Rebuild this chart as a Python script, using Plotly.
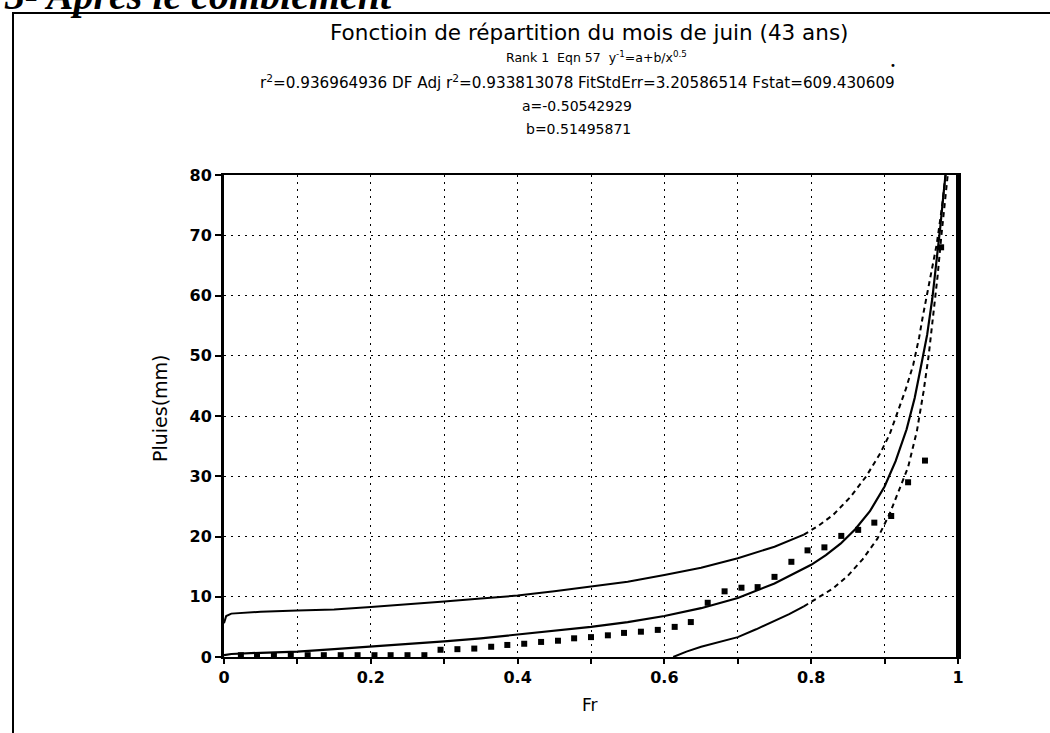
import plotly.graph_objects as go

# ---- observed sample: non-exceedance frequency and ranked June rainfall (mm), 43 years
freq_obs = [0.023, 0.045, 0.068, 0.091, 0.114, 0.136, 0.159, 0.182, 0.205, 0.227,
            0.250, 0.273, 0.295, 0.318, 0.341, 0.364, 0.386, 0.409, 0.432, 0.455,
            0.477, 0.500, 0.523, 0.545, 0.568, 0.591, 0.614, 0.636, 0.659, 0.682,
            0.705, 0.727, 0.750, 0.773, 0.795, 0.818, 0.841, 0.864, 0.886, 0.909,
            0.932, 0.955, 0.977]
rain_obs = [0.3, 0.3, 0.3, 0.3, 0.3, 0.3, 0.3, 0.3, 0.3, 0.3,
            0.3, 0.3, 1.2, 1.3, 1.4, 1.7, 2.0, 2.2, 2.5, 2.7,
            3.1, 3.3, 3.6, 4.0, 4.2, 4.5, 5.0, 5.8, 9.0, 10.9,
            11.5, 11.6, 13.3, 15.8, 17.7, 18.2, 20.1, 21.1, 22.3, 23.4,
            29.0, 32.6, 68.0]

# ---- fitted curve y^-1 = a + b/x^0.5
fit_x = [0.0, 0.01, 0.05, 0.1, 0.15, 0.2, 0.25, 0.3, 0.35, 0.4, 0.45, 0.5, 0.55,
         0.6, 0.65, 0.7, 0.75, 0.8, 0.82, 0.84, 0.86, 0.88, 0.9, 0.915, 0.93,
         0.941, 0.95, 0.958, 0.965, 0.971, 0.976, 0.98, 0.983]
fit_y = [0.3, 0.5, 0.7, 0.9, 1.3, 1.7, 2.1, 2.6, 3.1, 3.7, 4.3, 5.0, 5.8,
         6.8, 8.1, 9.8, 12.2, 15.3, 16.9, 18.8, 21.2, 24.2, 28.3, 32.5, 37.8,
         43.0, 48.5, 53.5, 59.5, 65.5, 71.5, 76.5, 80.0]

# ---- upper confidence limit (flat part drawn solid, steep part dashed)
up_x = [0.0, 0.003, 0.01, 0.05, 0.1, 0.15, 0.2, 0.25, 0.3, 0.35, 0.4, 0.45,
        0.5, 0.55, 0.6, 0.65, 0.7, 0.75, 0.79]
up_y = [5.6, 6.8, 7.2, 7.5, 7.7, 7.9, 8.3, 8.7, 9.2, 9.7, 10.2, 10.9,
        11.7, 12.5, 13.6, 14.8, 16.4, 18.3, 20.3]
up2_x = [0.79, 0.81, 0.83, 0.853, 0.875, 0.894, 0.907, 0.917, 0.929, 0.939,
         0.947, 0.952, 0.962, 0.971, 0.978, 0.983]
up2_y = [20.3, 21.8, 23.6, 26.5, 30.0, 33.8, 37.0, 40.5, 44.5, 48.5,
         53.0, 56.5, 62.5, 68.5, 74.5, 80.0]

# ---- lower confidence limit
lo_x = [0.612, 0.63, 0.65, 0.675, 0.7, 0.725, 0.75, 0.77, 0.79]
lo_y = [0.0, 0.9, 1.7, 2.5, 3.3, 4.6, 6.0, 7.1, 8.4]
lo2_x = [0.79, 0.81, 0.83, 0.85, 0.87, 0.89, 0.907, 0.92, 0.932, 0.944, 0.953,
         0.96, 0.966, 0.972, 0.977, 0.982, 0.986]
lo2_y = [8.4, 9.9, 11.4, 13.5, 16.2, 19.6, 23.8, 27.8, 31.5, 37.5, 44.0,
         50.0, 56.0, 63.0, 69.5, 75.5, 80.0]

x_ticks = [0, 0.2, 0.4, 0.6, 0.8, 1]
x_tick_text = ["0", "0.2", "0.4", "0.6", "0.8", "1"]
y_ticks = [0, 10, 20, 30, 40, 50, 60, 70, 80]

W, H = 1050, 733
L, R, T, B = 224, 958, 175, 657   # plot box in pixels


def px(p):
    return (p - L) / (R - L)


def py(p):
    return (B - p) / (B - T)


SANS = "DejaVu Sans, Liberation Sans, Arial, sans-serif"
black = "black"

fig = go.Figure()
line_solid = dict(color=black, width=2)
line_dash = dict(color=black, width=2, dash="5px,4px")

fig.add_trace(go.Scatter(x=up_x, y=up_y, mode="lines", line=line_solid, showlegend=False))
fig.add_trace(go.Scatter(x=up2_x, y=up2_y, mode="lines", line=line_dash, showlegend=False))
fig.add_trace(go.Scatter(x=lo_x, y=lo_y, mode="lines", line=line_solid, showlegend=False))
fig.add_trace(go.Scatter(x=lo2_x, y=lo2_y, mode="lines", line=line_dash, showlegend=False))
fig.add_trace(go.Scatter(x=fit_x, y=fit_y, mode="lines", line=dict(color=black, width=2.2),
                         showlegend=False))
fig.add_trace(go.Scatter(x=freq_obs, y=rain_obs, mode="markers",
                         marker=dict(symbol="square", size=6, color=black),
                         cliponaxis=False, showlegend=False))

grid = dict(showgrid=True, gridcolor=black, gridwidth=1.3, griddash="2px,5px")

fig.update_xaxes(range=[0, 1], tickmode="array", tickvals=x_ticks, ticktext=x_tick_text,
                 showline=True, linecolor=black, linewidth=2, mirror=True,
                 ticks="outside", ticklen=5, tickwidth=1.5, tickcolor=black,
                 tickfont=dict(family=SANS, size=16, color=black, weight="bold"),
                 zeroline=False,
                 minor=dict(dtick=0.1, tick0=0, ticks="outside", ticklen=5, tickwidth=1.5,
                            tickcolor=black, **grid),
                 **grid)
fig.update_yaxes(range=[0, 80], tickmode="array", tickvals=y_ticks,
                 showline=True, linecolor=black, linewidth=3, mirror=True,
                 ticks="outside", ticklen=6, tickwidth=1.5, tickcolor=black,
                 tickfont=dict(family=SANS, size=16, color=black, weight="bold"),
                 zeroline=False, **grid)

annotations = [
    dict(text="Fonctioin de répartition du mois de juin (43 ans)", x=px(589), y=py(33),
         font=dict(size=21.5, family=SANS)),
    dict(text="Rank 1  Eqn 57  y<sup>-1</sup>=a+b/x<sup>0.5</sup>", x=px(596), y=py(57),
         font=dict(size=12.5, family=SANS)),
    dict(text="r<sup>2</sup>=0.936964936 DF Adj r<sup>2</sup>=0.933813078 "
              "FitStdErr=3.20586514 Fstat=609.430609", x=px(577), y=py(82),
         font=dict(size=15.2, family=SANS)),
    dict(text="a=-0.50542929", x=px(577), y=py(106), font=dict(size=14, family=SANS)),
    dict(text="b=0.51495871", x=px(578), y=py(129), font=dict(size=14, family=SANS)),
    dict(text="Fr", x=px(590), y=py(705), font=dict(size=17, family=SANS)),
    dict(text="Pluies(mm)", x=px(160), y=py(408), textangle=-90,
         font=dict(size=19, family=SANS)),
    dict(text="•", x=px(893), y=py(66), font=dict(size=10, family=SANS)),
    dict(text="<b><i>3- Après le comblement</i></b>", x=px(2), y=py(20), xanchor="left",
         yanchor="bottom", font=dict(size=40, family="Liberation Serif, Times New Roman, serif")),
]
for a in annotations:
    a.setdefault("xanchor", "center")
    a.setdefault("yanchor", "middle")
    a["xref"] = "paper"
    a["yref"] = "paper"
    a["showarrow"] = False
    a["font"].setdefault("color", black)

shapes = [
    # page frame: top rule and left rule
    dict(type="line", xref="paper", yref="paper", x0=px(12), x1=px(1050), y0=py(13), y1=py(13),
         line=dict(color=black, width=2)),
    dict(type="line", xref="paper", yref="paper", x0=px(13), x1=px(13), y0=py(13), y1=py(733),
         line=dict(color=black, width=2)),
    # heavier right edge of the plot box
    dict(type="line", xref="paper", yref="paper", x0=1, x1=1, y0=0, y1=1,
         line=dict(color=black, width=4)),
]

fig.update_layout(
    width=W, height=H,
    margin=dict(l=L, r=W - R, t=T, b=H - B, pad=0),
    paper_bgcolor="white", plot_bgcolor="white",
    font=dict(family=SANS, color=black),
    annotations=annotations, shapes=shapes,
    showlegend=False,
)

fig.write_html("out.html")
